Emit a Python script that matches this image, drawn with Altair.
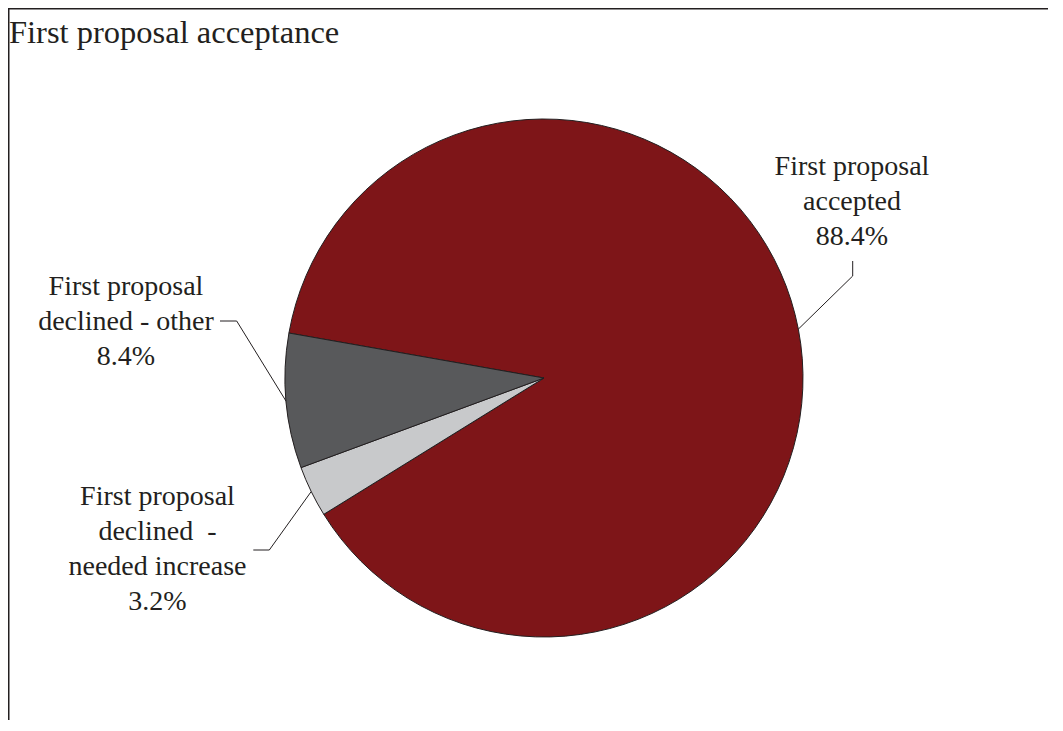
import math
import altair as alt
import pandas as pd

# ---- data ----
categories = [
    "First proposal accepted",
    "First proposal declined - needed increase",
    "First proposal declined - other",
]
label_lines = [
    ["First proposal", "accepted"],
    ["First proposal", "declined\u00a0 -", "needed increase"],
    ["First proposal", "declined - other"],
]
values = [88.4, 3.2, 8.4]
colors = ["#7e1518", "#c8c9cb", "#58595b"]
title_text = "First proposal acceptance"

# ---- layout (pixels) ----
W, H = 1040, 712
CX, CY, R = 536, 370, 259
START_DEG = 280.0
INK = "#231f20"
FONT = "Liberation Serif"

# label anchor (center x, first-line baseline) and leader-line elbows
label_pos = [(844, 167), (149.5, 497), (118, 287)]
elbows = [
    [(844.7, 268), (844.7, 253)],
    [(261.3, 542), (245.3, 542)],
    [(228.7, 313), (212, 313)],
]

total = sum(values)
start_rad = math.radians(START_DEG)

pie_df = pd.DataFrame(
    {"category": categories, "value": values, "ord": list(range(len(values)))}
)

# leader lines: start at the pie edge at each slice's mid angle
rows = []
cum = 0.0
for i, v in enumerate(values):
    mid = math.radians(START_DEG + (cum + v / 2) / total * 360.0)
    cum += v
    pts = [(CX + R * math.sin(mid), CY - R * math.cos(mid))] + elbows[i]
    for s, (px, py) in enumerate(pts):
        rows.append({"cat": categories[i], "seq": s, "px": px, "py": py})
line_df = pd.DataFrame(rows)

text_df = pd.DataFrame(
    {
        "cat": categories,
        "px": [p[0] for p in label_pos],
        "py": [p[1] for p in label_pos],
        "text": [
            "\n".join(label_lines[i] + [f"{values[i]:.1f}%"])
            for i in range(len(values))
        ],
    }
)

xs = alt.Scale(domain=[0, W], nice=False, zero=False)
ys = alt.Scale(domain=[0, H], nice=False, zero=False, reverse=True)

arc = (
    alt.Chart(pie_df)
    .mark_arc(outerRadius=R, stroke=INK, strokeWidth=1)
    .encode(
        theta=alt.Theta(
            "value:Q",
            stack=True,
            scale=alt.Scale(range=[start_rad, start_rad + 2 * math.pi]),
        ),
        order=alt.Order("ord:Q"),
        color=alt.Color(
            "category:N",
            scale=alt.Scale(domain=categories, range=colors),
            legend=None,
        ),
        x=alt.value(CX),
        y=alt.value(CY),
    )
)

leaders = (
    alt.Chart(line_df)
    .mark_line(color=INK, strokeWidth=1)
    .encode(
        x=alt.X("px:Q", scale=xs, axis=None),
        y=alt.Y("py:Q", scale=ys, axis=None),
        detail="cat:N",
        order="seq:Q",
    )
)

labels = (
    alt.Chart(text_df)
    .mark_text(
        font=FONT,
        fontSize=28,
        lineHeight=35,
        align="center",
        baseline="alphabetic",
        lineBreak="\n",
        color=INK,
    )
    .encode(
        x=alt.X("px:Q", scale=xs, axis=None),
        y=alt.Y("py:Q", scale=ys, axis=None),
        text="text:N",
    )
)

title = (
    alt.Chart(pd.DataFrame({"t": [title_text]}))
    .mark_text(font=FONT, fontSize=32.5, align="left", baseline="alphabetic", color=INK)
    .encode(x=alt.value(1), y=alt.value(35), text="t:N")
)

one = pd.DataFrame({"k": [0]})
left_border = (
    alt.Chart(one)
    .mark_rule(color=INK, strokeWidth=1.5)
    .encode(x=alt.value(0.75), y=alt.value(0), y2=alt.value(H))
)
top_border = (
    alt.Chart(one)
    .mark_rule(color=INK, strokeWidth=1.5)
    .encode(y=alt.value(0.75), x=alt.value(0), x2=alt.value(W))
)

chart = (
    alt.layer(arc, leaders, labels, title, left_border, top_border)
    .properties(
        width=W,
        height=H,
        padding=0,
        autosize=alt.AutoSizeParams(type="none"),
        background="white",
    )
    .configure_view(stroke=None)
)

chart.save("out.html", embed_options={"renderer": "svg", "actions": False})
